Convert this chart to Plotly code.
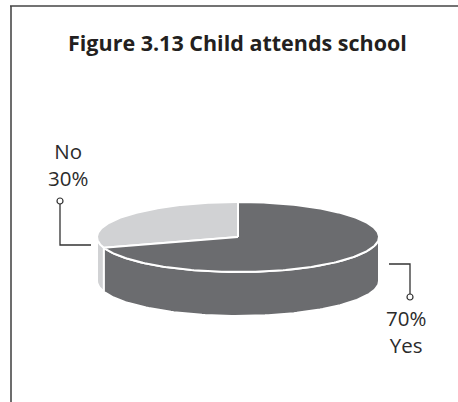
import numpy as np
import plotly.graph_objects as go

# Survey result: does the child attend school?
categories = ["No", "Yes"]
shares = [30, 70]
slice_colors = ["#d1d2d4", "#6b6c6f"]

W, H = 458, 402
cx, cy = 238, 237      # centre of the pie's top face (px)
rx, ry = 141, 35       # ellipse semi-axes of the tilted disc
depth = 44             # thickness of the disc


def pt(theta_deg, drop=0.0):
    t = np.radians(theta_deg)
    return cx + rx * np.cos(t), cy - ry * np.sin(t) + drop


def arc(t0, t1, drop=0.0, n=120):
    ts = np.linspace(t0, t1, n)
    xs, ys = pt(ts, drop)
    return list(xs), list(ys)


# slice angles: start at 12 o'clock, run counter-clockwise
bounds = []
start = 90.0
for s in shares:
    end = start + 360.0 * s / sum(shares)
    bounds.append((start, end))
    start = end

fig = go.Figure()

# side walls (only the front half, 180..360 degrees, is visible)
for (t0, t1), col in zip(bounds, slice_colors):
    segs = []
    for lo, hi in [(t0, t1), (t0 - 360, t1 - 360)]:
        a, b = max(lo, 180), min(hi, 360)
        if a < b:
            segs.append((a, b))
    for a, b in segs:
        xt, yt = arc(a, b)
        xb, yb = arc(b, a, depth)
        fig.add_trace(go.Scatter(
            x=xt + xb + [xt[0]], y=yt + yb + [yt[0]],
            mode="lines", fill="toself", fillcolor=col,
            line=dict(color="white", width=2),
            hoverinfo="skip", showlegend=False))

# top faces
for (t0, t1), col, name in zip(bounds, slice_colors, categories):
    xa, ya = arc(t0, t1, n=240)
    fig.add_trace(go.Scatter(
        x=[cx] + xa + [cx], y=[cy] + ya + [cy],
        mode="lines", fill="toself", fillcolor=col,
        line=dict(color="white", width=2),
        name=name, hoverinfo="skip", showlegend=False))

# leader lines with small open circles
leaders = [
    dict(x=[91, 60, 60], y=[245, 245, 201]),
    dict(x=[389, 410, 410], y=[264, 264, 297]),
]
for ld in leaders:
    fig.add_trace(go.Scatter(
        x=ld["x"], y=ld["y"], mode="lines",
        line=dict(color="#333333", width=1.3),
        hoverinfo="skip", showlegend=False))
    fig.add_trace(go.Scatter(
        x=[ld["x"][-1]], y=[ld["y"][-1]], mode="markers",
        marker=dict(symbol="circle", size=6, color="white",
                    line=dict(color="#333333", width=1.2)),
        hoverinfo="skip", showlegend=False))

label_font = dict(family="Open Sans", size=20.5, color="#2b2b2b", weight=400)
fig.add_annotation(x=68, y=164, text=f"{categories[0]}<br>{shares[0]}%",
                   showarrow=False, font=label_font, align="center")
fig.add_annotation(x=406, y=331, text=f"{shares[1]}%<br>{categories[1]}",
                   showarrow=False, font=label_font, align="center")

fig.add_annotation(x=237, y=42, text="Figure 3.13 Child attends school",
                   showarrow=False,
                   font=dict(family="Open Sans", size=21.5, color="#231f20",
                             weight=700))

# frame: left and top rules
fig.add_shape(type="line", x0=11, x1=11, y0=6, y1=H,
              line=dict(color="#6d6d6d", width=2))
fig.add_shape(type="line", x0=10, x1=W, y0=6, y1=6,
              line=dict(color="#444444", width=1.5))

fig.update_layout(
    width=W, height=H, margin=dict(l=0, r=0, t=0, b=0),
    paper_bgcolor="white", plot_bgcolor="white",
    xaxis=dict(range=[0, W], visible=False, fixedrange=True),
    yaxis=dict(range=[H, 0], visible=False, fixedrange=True),
)

fig.write_html("out.html")
